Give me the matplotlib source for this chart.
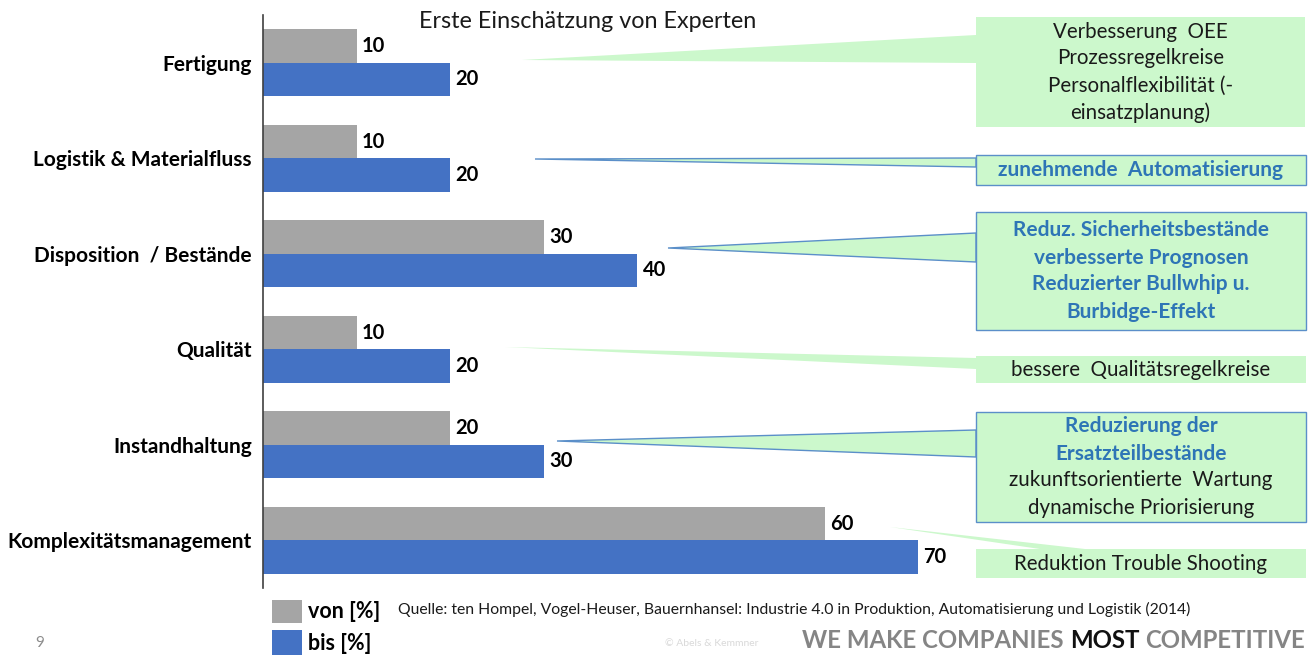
import matplotlib.pyplot as plt
from matplotlib.patches import Rectangle, Polygon

plt.rcParams['font.family'] = ['Lato', 'DejaVu Sans']

# Data
categories = ['Fertigung', 'Logistik & Materialfluss', 'Disposition  / Bestände',
              'Qualität', 'Instandhaltung', 'Komplexitätsmanagement']
von_values = [10, 10, 30, 10, 20, 60]
bis_values = [20, 20, 40, 20, 30, 70]

callout_lines = [
    [('Verbesserung  OEE', 'n'), ('Prozessregelkreise', 'n'),
     ('Personalflexibilität (-', 'n'), ('einsatzplanung)', 'n')],
    [('zunehmende  Automatisierung', 'b')],
    [('Reduz. Sicherheitsbestände', 'b'), ('verbesserte Prognosen', 'b'),
     ('Reduzierter Bullwhip u.', 'b'), ('Burbidge-Effekt', 'b')],
    [('bessere  Qualitätsregelkreise', 'n')],
    [('Reduzierung der', 'b'), ('Ersatzteilbestände', 'b'),
     ('zukunftsorientierte  Wartung', 'n'), ('dynamische Priorisierung', 'n')],
    [('Reduktion Trouble Shooting', 'n')],
]

grey = '#a5a5a5'
blue = '#4472c4'
green = '#ccf8cc'
edge_blue = '#5b8fc9'
text_blue = '#2e75b6'

W, H = 1308, 655
fig = plt.figure(figsize=(W / 100, H / 100), dpi=100, facecolor='white')

# main bar axes
ax = fig.add_axes([263 / W, 1 - 588 / H, 1 - 263 / W, (588 - 15) / H])
ax.set_facecolor('none')
ypos = list(range(len(categories)))
bh = 0.35
ax.barh([y - bh / 2 for y in ypos], von_values, height=bh, color=grey, zorder=2)
ax.barh([y + bh / 2 for y in ypos], bis_values, height=bh, color=blue, zorder=2)
for y, v, b in zip(ypos, von_values, bis_values):
    ax.text(v + 0.55, y - bh / 2, str(v), va='center', ha='left',
            fontsize=14.5, fontweight='bold', color='black')
    ax.text(b + 0.55, y + bh / 2, str(b), va='center', ha='left',
            fontsize=14.5, fontweight='bold', color='black')
ax.set_xlim(0, (W - 263) / 9.36)
ax.set_ylim(len(categories) - 0.5, -0.5)
ax.set_yticks(ypos)
ax.set_yticklabels(categories, fontsize=15, fontweight='bold')
ax.tick_params(axis='y', length=0, pad=8)
ax.set_xticks([])
for s in ['top', 'right', 'bottom']:
    ax.spines[s].set_visible(False)
ax.spines['left'].set_color('#404040')
ax.spines['left'].set_linewidth(1.2)

# overlay in pixel coordinates for callouts and footer
ov = fig.add_axes([0, 0, 1, 1], zorder=3)
ov.set_xlim(0, W)
ov.set_ylim(H, 0)
ov.axis('off')
ov.patch.set_alpha(0)

ov.text(588, 22, 'Erste Einschätzung von Experten', ha='center', va='center',
        fontsize=16.8, color='#1a1a1a')

# boxes: (x0, y0, x1, y1, bordered, tail polygon)
boxes = [
    (976, 17, 1305, 127, False, [(976, 35), (522, 60), (976, 63)]),
    (976, 155, 1306, 185, True, [(976, 158), (535, 159), (976, 167)]),
    (976, 212, 1306, 330, True, [(976, 233), (668, 248), (976, 262)]),
    (976, 356, 1306, 383, False, [(976, 358), (505, 347), (976, 369)]),
    (976, 412, 1306, 522, True, [(976, 430), (557, 441), (976, 457)]),
    (976, 549, 1306, 578, False, [(1040, 549), (890, 527), (1085, 549)]),
]
for (x0, y0, x1, y1, bordered, tail), lines in zip(boxes, callout_lines):
    ec = edge_blue if bordered else 'none'
    ov.add_patch(Polygon(tail, closed=True, facecolor=green, edgecolor=ec, lw=1.0, zorder=1))
    ov.add_patch(Rectangle((x0, y0), x1 - x0, y1 - y0, facecolor=green,
                           edgecolor=ec, lw=1.0, zorder=2))
    n = len(lines)
    step = 27
    yc = (y0 + y1) / 2
    for i, (txt, style) in enumerate(lines):
        ty = yc + (i - (n - 1) / 2) * step
        if style == 'b':
            ov.text((x0 + x1) / 2, ty, txt, ha='center', va='center', fontsize=15,
                    fontweight='bold', color=text_blue, zorder=3)
        else:
            ov.text((x0 + x1) / 2, ty, txt, ha='center', va='center', fontsize=14.8,
                    color='#1a1a1a', zorder=3)

# legend
ov.add_patch(Rectangle((272, 600), 30, 23, facecolor=grey, edgecolor='none'))
ov.add_patch(Rectangle((272, 630), 30, 25, facecolor=blue, edgecolor='none'))
ov.text(308, 612, 'von [%]', ha='left', va='center', fontsize=15.5, fontweight='bold')
ov.text(308, 644, 'bis [%]', ha='left', va='center', fontsize=15.5, fontweight='bold')
ov.text(398, 609, 'Quelle: ten Hompel, Vogel-Heuser, Bauernhansel: Industrie 4.0 in Produktion, '
        'Automatisierung und Logistik (2014)', ha='left', va='center', fontsize=11.3,
        color='#1a1a1a')

# footer
ov.text(40, 643, '9', ha='center', va='center', fontsize=11, color='#8c8c8c')
ov.text(712, 643, '© Abels & Kemmner', ha='center', va='center', fontsize=7.5, color='#d9d9d9')
ov.text(1305, 640, 'COMPETITIVE', ha='right', va='center', fontsize=17.3,
        fontweight='bold', color='#858585')
ov.text(1140, 640, 'MOST', ha='right', va='center', fontsize=17.3, fontweight='bold',
        color='#111111')
ov.text(1063, 640, 'WE MAKE COMPANIES', ha='right', va='center', fontsize=17.3,
        fontweight='bold', color='#858585')

fig.savefig('out.png', dpi=100, facecolor='white')
